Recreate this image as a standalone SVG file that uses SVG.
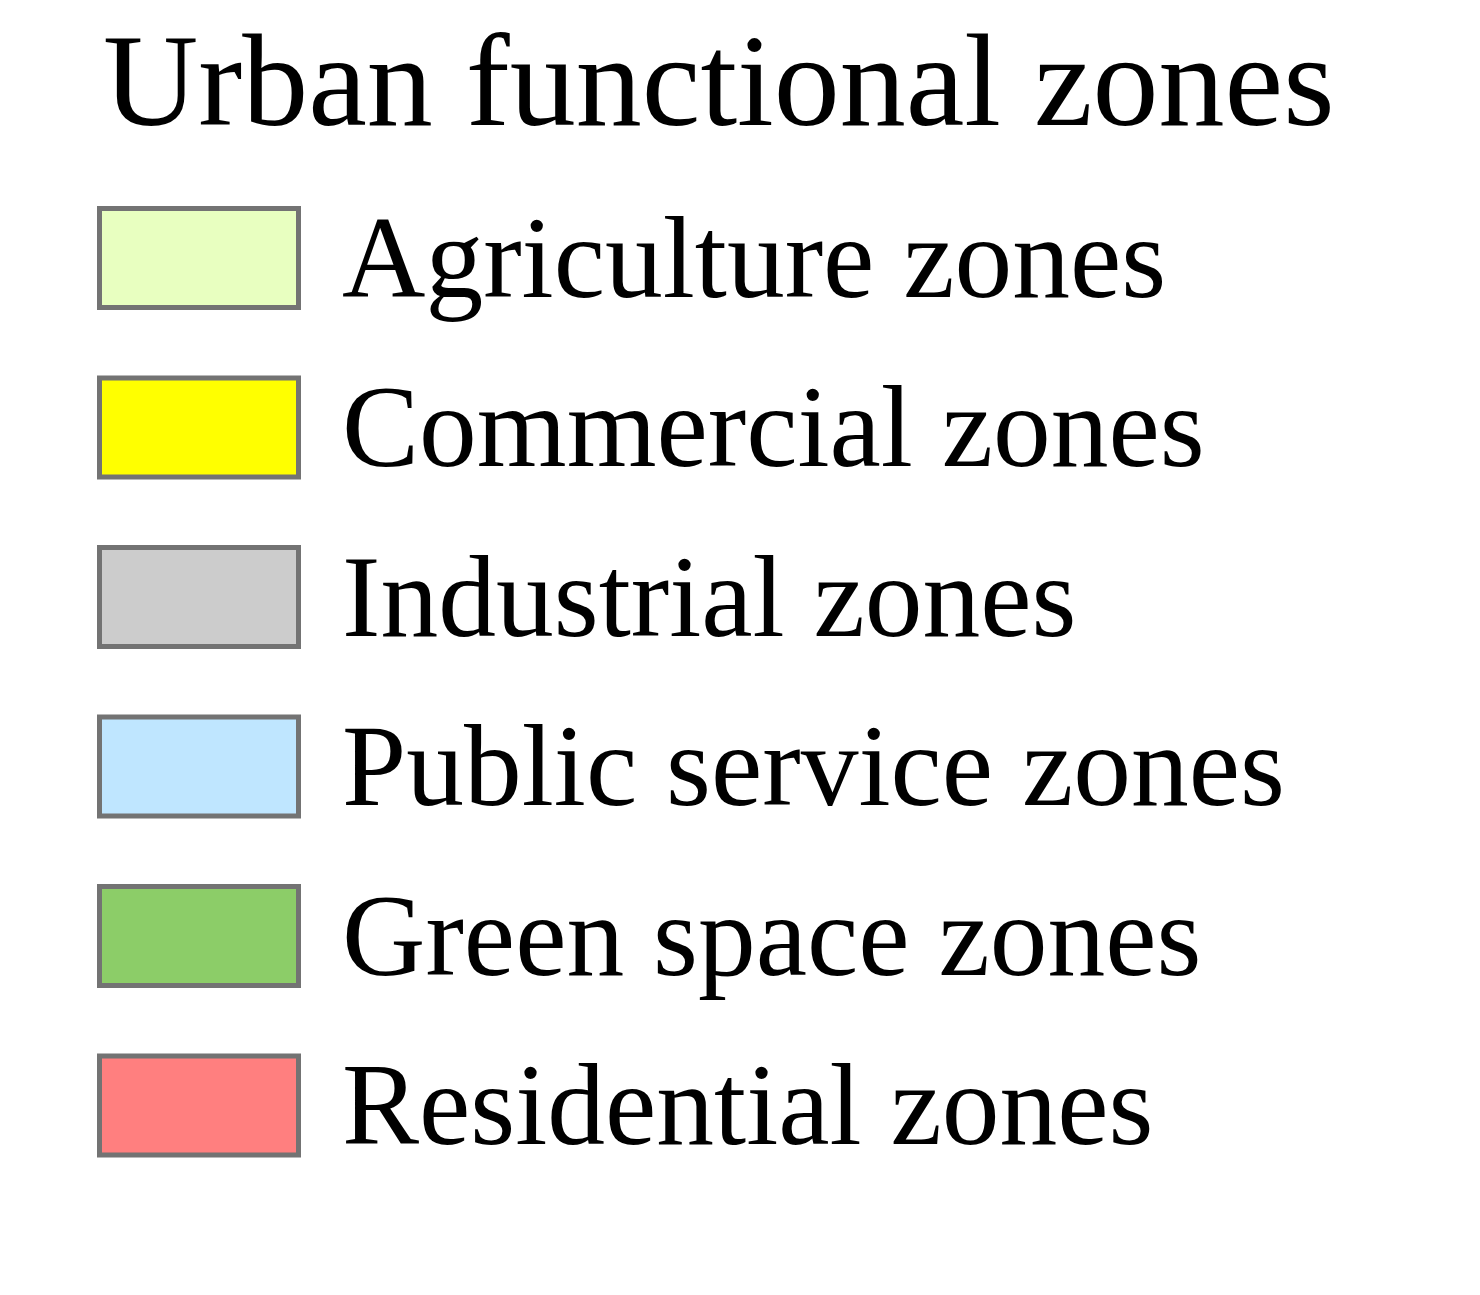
<svg xmlns="http://www.w3.org/2000/svg" width="1480" height="1295" viewBox="0 0 1480 1295">
<style>
text{font-family:"Liberation Serif","Times New Roman",serif;fill:#000}
.t{font-size:132px}
.l{font-size:115.5px}
.s{stroke:#737373;stroke-width:5}
</style>
<rect width="1480" height="1295" fill="#fff"/>
<text class="t" x="103" y="125">Urban functional zones</text>
<g id="agri"><rect class="s" x="99.5" y="208.5" width="199" height="99" fill="#e8ffc0"/><text class="l" x="342" y="297">Agriculture zones</text></g>
<g id="comm"><rect class="s" x="99.5" y="378" width="199" height="99" fill="#ffff00"/><text class="l" x="342" y="466">Commercial zones</text></g>
<g id="ind"><rect class="s" x="99.5" y="547.5" width="199" height="99" fill="#cccccc"/><text class="l" x="342" y="636">Industrial zones</text></g>
<g id="pub"><rect class="s" x="99.5" y="717" width="199" height="99" fill="#bfe6ff"/><text class="l" x="342" y="805">Public service zones</text></g>
<g id="green"><rect class="s" x="99.5" y="886.5" width="199" height="99" fill="#8ccd68"/><text class="l" x="342" y="975">Green space zones</text></g>
<g id="res"><rect class="s" x="99.5" y="1056" width="199" height="99" fill="#ff7f7f"/><text class="l" x="342" y="1144">Residential zones</text></g>
</svg>
